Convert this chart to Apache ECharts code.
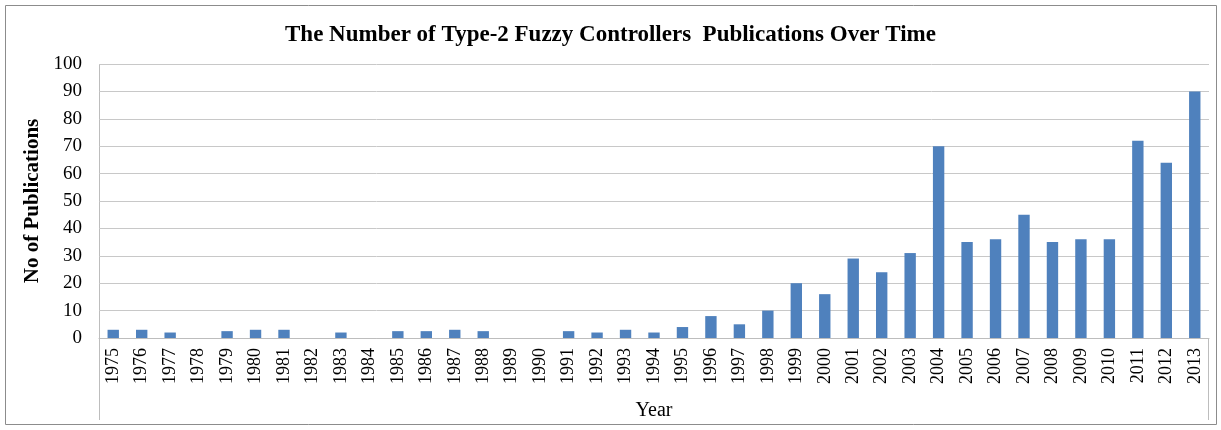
<!DOCTYPE html>
<html><head><meta charset="utf-8">
<script src="https://cdn.jsdelivr.net/npm/echarts@6/dist/echarts.min.js"></script>
<style>html,body{margin:0;padding:0;background:#fff}#c{width:1221px;height:430px}</style>
</head><body><div id="c"></div>
<script>
var years = ['1975','1976','1977','1978','1979','1980','1981','1982','1983','1984','1985','1986','1987','1988','1989','1990','1991','1992','1993','1994','1995','1996','1997','1998','1999','2000','2001','2002','2003','2004','2005','2006','2007','2008','2009','2010','2011','2012','2013'];
var publications = [3,3,2,0,2.5,3,3,0,2,0,2.5,2.5,3,2.5,0,0,2.5,2,3,2,4,8,5,10,20,16,29,24,31,70,35,36,45,35,36,36,72,64,90];
var yTicks = {min:0, max:100, interval:10};

var chart = echarts.init(document.getElementById('c'));
var serif = '"Liberation Serif","DejaVu Serif",serif';
chart.setOption({
  animation:false,
  title:{text:'The Number of Type-2 Fuzzy Controllers  Publications Over Time', left:'center', top:19,
    textStyle:{fontFamily:serif, fontWeight:'bold', fontSize:23, color:'#000'}},
  grid:{left:99, right:12, top:64, bottom:92, containLabel:false, outerBoundsMode:'none'},
  xAxis:{type:'category', data:years, name:'Year', nameLocation:'middle', nameGap:63,
    nameTextStyle:{fontFamily:serif, fontSize:20, color:'#000'},
    axisLine:{lineStyle:{color:'#bdbdbd'}}, axisTick:{show:false},
    axisLabel:{rotate:90, fontFamily:serif, fontSize:18, color:'#000', margin:10, interval:0}},
  yAxis:{type:'value', min:yTicks.min, max:yTicks.max, interval:yTicks.interval,
    name:'No of Publications', nameLocation:'middle', nameGap:43, nameRotate:90,
    nameTextStyle:{fontFamily:serif, fontWeight:'bold', fontSize:21, color:'#000'},
    axisLine:{show:false}, axisTick:{show:false},
    axisLabel:{fontFamily:serif, fontSize:19, color:'#000', margin:17},
    splitLine:{lineStyle:{color:'#c8c8c8', width:1}}},
  series:[{type:'bar', data:publications, barWidth:'40%',
    itemStyle:{color:'#4f81bd'}}],
  graphic:[
    {type:'rect', shape:{x:5.5,y:5.5,width:1211,height:419}, style:{fill:'none', stroke:'#8c8c8c', lineWidth:1}, silent:true},
    {type:'line', shape:{x1:99.5,y1:64,x2:99.5,y2:420}, style:{stroke:'#bdbdbd', lineWidth:1}, silent:true},
    {type:'line', shape:{x1:1208.5,y1:338,x2:1208.5,y2:420}, style:{stroke:'#bdbdbd', lineWidth:1}, silent:true}
  ]
});
</script></body></html>
